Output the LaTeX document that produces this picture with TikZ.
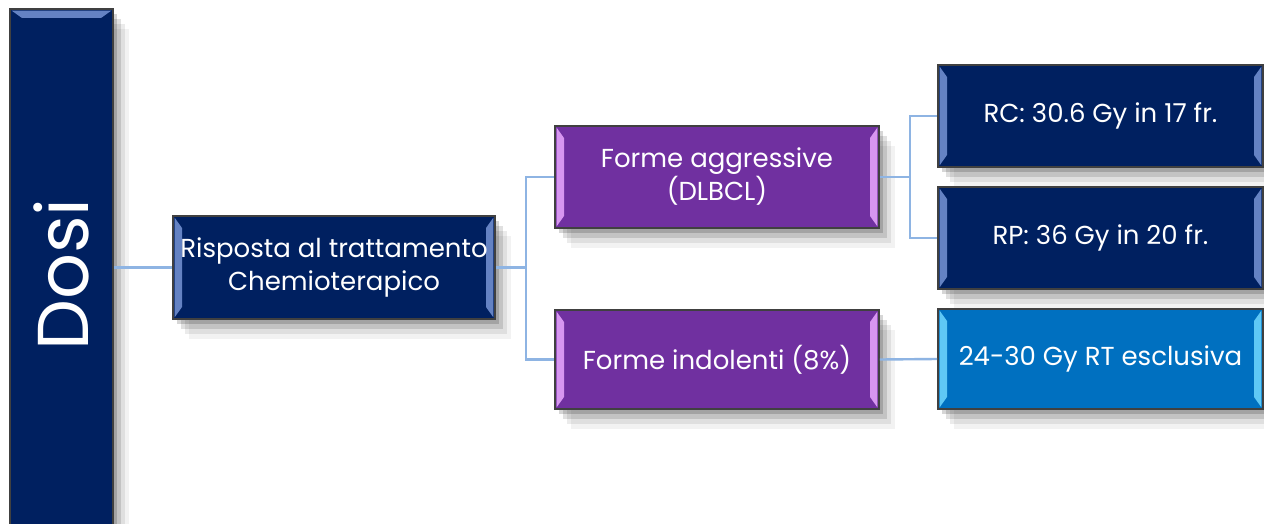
\documentclass[tikz,border=0pt]{standalone}
\usepackage{fontspec}
\setmainfont{Poppins}
\usepackage{graphicx}
\usetikzlibrary{positioning,shadows}

\definecolor{navy}{RGB}{0,32,96}
\definecolor{navybevel}{RGB}{100,130,195}
\definecolor{viola}{RGB}{112,48,160}
\definecolor{violabevel}{RGB}{215,150,240}
\definecolor{azzurro}{RGB}{0,112,192}
\definecolor{azzurrobevel}{RGB}{95,200,245}
\definecolor{linea}{RGB}{142,180,227}

\tikzset{
	box/.style={draw=black!75, line width=0.8pt, text=white, align=center,
		inner sep=0pt, font=\fontsize{13}{16.5}\selectfont,
		drop shadow={shadow xshift=2pt, shadow yshift=-2.5pt, opacity=0.16, fill=black},
		drop shadow={shadow xshift=4pt, shadow yshift=-5pt, opacity=0.12, fill=black},
		drop shadow={shadow xshift=6pt, shadow yshift=-7.5pt, opacity=0.08, fill=black},
		drop shadow={shadow xshift=8pt, shadow yshift=-10pt, opacity=0.05, fill=black}},
	sidebevel/.style={path picture={
		\fill[#1] ([shift={(0.8pt,0.8pt)}]path picture bounding box.south west)
			-- ([shift={(0.8pt,-0.8pt)}]path picture bounding box.north west)
			-- ([shift={(4.5pt,-6pt)}]path picture bounding box.north west)
			-- ([shift={(4.5pt,6pt)}]path picture bounding box.south west) -- cycle;
		\fill[#1] ([shift={(-0.8pt,0.8pt)}]path picture bounding box.south east)
			-- ([shift={(-0.8pt,-0.8pt)}]path picture bounding box.north east)
			-- ([shift={(-4.5pt,-6pt)}]path picture bounding box.north east)
			-- ([shift={(-4.5pt,6pt)}]path picture bounding box.south east) -- cycle;}},
	endbevel/.style={path picture={
		\fill[#1] ([shift={(0.8pt,-0.8pt)}]path picture bounding box.north west)
			-- ([shift={(-0.8pt,-0.8pt)}]path picture bounding box.north east)
			-- ([shift={(-6pt,-4.5pt)}]path picture bounding box.north east)
			-- ([shift={(6pt,-4.5pt)}]path picture bounding box.north west) -- cycle;}},
	conn/.style={draw=linea, line width=1.2pt}
}

\begin{document}
\begin{tikzpicture}[x=0.5pt,y=-0.5pt]
	\path[use as bounding box, clip] (0,0) rectangle (1264,524);
	\fill[white] (0,0) rectangle (1264,524);

	%Nodes
	\node[box, fill=navy, endbevel=navybevel, minimum width=51.5pt, minimum height=265.5pt]
		(dosi) at (61.5,274.5) {\rotatebox{90}{\fontsize{36}{36}\selectfont Dosi}};
	\node[box, fill=navy, sidebevel=navybevel, minimum width=161pt, minimum height=51.5pt]
		(risposta) at (334,267.5) {Risposta al trattamento\\Chemioterapico};
	\node[box, fill=viola, sidebevel=violabevel, minimum width=162pt, minimum height=51pt]
		(aggressive) at (717,177) {Forme aggressive\\(DLBCL)};
	\node[box, fill=viola, sidebevel=violabevel, minimum width=162pt, minimum height=49.5pt]
		(indolenti) at (717,359.5) {Forme indolenti (8\%)};
	\node[box, fill=navy, sidebevel=navybevel, minimum width=162.5pt, minimum height=51pt]
		(rc) at (1100.5,116) {RC: 30.6 Gy in 17 fr.};
	\node[box, fill=navy, sidebevel=navybevel, minimum width=162.5pt, minimum height=51pt]
		(rp) at (1100.5,238) {RP: 36 Gy in 20 fr.};
	\node[box, fill=azzurro, sidebevel=azzurrobevel, minimum width=162.5pt, minimum height=50pt]
		(esclusiva) at (1100.5,359) {24-30 Gy RT esclusiva};

	\coordinate (b1) at (526,267.5);
	\coordinate (b2) at (910,177);

	%Lines
	\draw[conn] (risposta.west -| dosi.east) -- (risposta.west);
	\draw[conn] (risposta.east) -- (b1) |- (aggressive.west);
	\draw[conn] (b1) |- (indolenti.west);
	\draw[conn] (aggressive.east) -- (b2) |- (rc.west);
	\draw[conn] (b2) |- (rp.west);
	\draw[conn] (indolenti.east) -- (esclusiva.west);

\end{tikzpicture}
\end{document}
